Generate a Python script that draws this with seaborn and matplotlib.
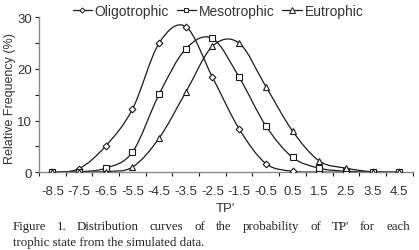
import numpy as np
import pandas as pd
import matplotlib
matplotlib.use("Agg")
import matplotlib.pyplot as plt
import seaborn as sns
from matplotlib.path import Path
from matplotlib.patches import PathPatch
from matplotlib.lines import Line2D
from matplotlib.textpath import TextPath
from matplotlib.font_manager import FontProperties

# values
tp = [-8.5, -7.5, -6.5, -5.5, -4.5, -3.5, -2.5, -1.5, -0.5, 0.5, 1.5, 2.5, 3.5, 4.5]
oligotrophic = [0.0, 0.7, 5.1, 12.2, 25.0, 28.2, 18.4, 8.4, 1.7, 0.2, 0.05, 0.0, 0.0, 0.0]
mesotrophic = [0.0, 0.1, 0.8, 3.9, 15.1, 23.9, 25.9, 18.4, 9.0, 2.9, 0.8, 0.2, 0.05, 0.0]
eutrophic = [0.0, 0.02, 0.15, 1.0, 6.6, 15.5, 24.4, 25.0, 16.6, 8.0, 2.2, 0.8, 0.1, 0.02]
series_names = ["Oligotrophic", "Mesotrophic", "Eutrophic"]
tick_labels = ["-8.5", "-7.5", "-6.5", "-5.5", "-4.5", "-3.5", "-2.5",
               "-1.5", "-0.5", "0.5", "1.5", "2.5", "3.5", "4.5"]
caption1 = "Figure 1. Distribution curves of the probability of TP' for each"
caption2 = "trophic state from the simulated data."

df = pd.DataFrame({
    "TP": tp * 3,
    "freq": oligotrophic + mesotrophic + eutrophic,
    "state": [n for n in series_names for _ in tp],
})

sns.set_style("ticks")
plt.rcParams["font.family"] = ["Liberation Sans", "DejaVu Sans"]

ink = "#1a1a1a"
grey = "#8a8a8a"
txt = "#333333"
markers = {"Oligotrophic": "D", "Mesotrophic": "s", "Eutrophic": "^"}
msizes = {"Oligotrophic": 3.4, "Mesotrophic": 4.0, "Eutrophic": 4.4}

W, H = 419, 251
fig = plt.figure(figsize=(W / 100, H / 100), dpi=100)
ax = fig.add_axes([39 / W, 1 - 173.3 / H, (412.6 - 39) / W, (173.3 - 18.3) / H])


def smooth_path(x, y):
    # Excel-style smoothed line (Catmull-Rom as cubic Bezier)
    pts = np.column_stack([x, y])
    n = len(pts)
    verts = [pts[0]]
    codes = [Path.MOVETO]
    for i in range(n - 1):
        p0 = pts[max(i - 1, 0)]
        p1 = pts[i]
        p2 = pts[i + 1]
        p3 = pts[min(i + 2, n - 1)]
        verts += [p1 + (p2 - p0) / 6, p2 - (p3 - p1) / 6, p2]
        codes += [Path.CURVE4] * 3
    return Path(verts, codes)


for name in series_names:
    sub = df[df["state"] == name]
    ax.add_patch(PathPatch(smooth_path(sub["TP"].values, sub["freq"].values),
                           fill=False, edgecolor=ink, lw=0.9, zorder=2))
    sns.lineplot(data=sub, x="TP", y="freq", ax=ax, lw=0, marker=markers[name],
                 markersize=msizes[name], markerfacecolor="white",
                 markeredgecolor=ink, markeredgewidth=0.8, zorder=3)

ax.set_xlim(-9, 5)
ax.set_ylim(0, 30)
sns.despine(ax=ax)
for s in ["left", "bottom"]:
    ax.spines[s].set_color(grey)
    ax.spines[s].set_linewidth(1.0)

ax.set_xticks(tp)
ax.set_xticklabels(tick_labels)
ax.set_xticks(np.arange(-9, 6, 1), minor=True)
ax.tick_params(axis="x", which="major", length=0, pad=9, labelsize=9.5, labelcolor=txt)
ax.tick_params(axis="x", which="minor", length=3, width=0.8, color=ink, direction="out")

ax.set_yticks([0, 10, 20, 30])
ax.set_yticks([5, 15, 25], minor=True)
ax.tick_params(axis="y", which="both", length=3, width=0.8, color=ink, direction="out",
               pad=2, labelsize=9.5, labelcolor=txt)

ax.set_xlabel("TP'", fontsize=9.5, color=txt)
ax.xaxis.set_label_coords(0.5, -(203 - 173.3) / (173.3 - 18.3))
ax.set_ylabel("Relative Frequency (%)", fontsize=9, color=txt)
ax.yaxis.set_label_coords(-(39 - 16) / (412.6 - 39), 0.485)

handles = [Line2D([0], [0], color=ink, lw=0.9, marker=markers[n], markersize=msizes[n] - 0.8,
                  markerfacecolor="white", markeredgecolor=ink, markeredgewidth=0.7)
           for n in series_names]
fig.legend(handles, series_names, loc="center", bbox_to_anchor=(218 / W, 1 - 12 / H),
           ncol=3, frameon=False, fontsize=10, handlelength=1.4, handletextpad=0.2,
           columnspacing=0.55, labelcolor=txt)

# justified first caption line, plain second line
serif = FontProperties(family=["Liberation Serif", "DejaVu Serif"], size=9.3)
words = caption1.split(" ")
widths = [TextPath((0, 0), w, prop=serif).get_extents().width * 100 / 72 for w in words]
left, right = 13, 409
gap = (right - left - sum(widths)) / (len(words) - 1)
xpos = left
for w, wd in zip(words, widths):
    fig.text(xpos / W, 1 - 227 / H, w, fontproperties=serif, va="center",
             ha="left", color="#222222")
    xpos += wd + gap
fig.text(left / W, 1 - 243 / H, caption2, fontproperties=serif,
         va="center", ha="left", color="#222222")

fig.savefig("out.png", dpi=100)
